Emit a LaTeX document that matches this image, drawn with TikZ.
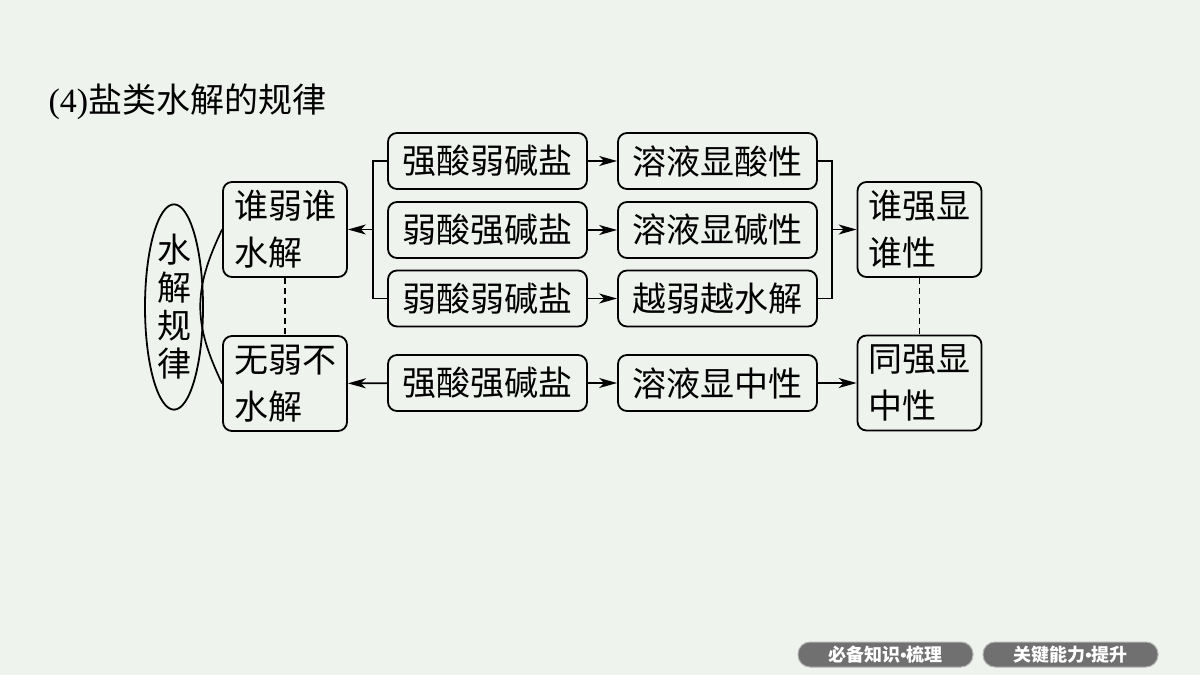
\documentclass[tikz,border=0pt]{standalone}
\usepackage{fontspec}
\usepackage{xcolor}
\usepackage{tikz}
\usetikzlibrary{arrows.meta,shapes.geometric}
\setmainfont{Liberation Serif}
\newfontfamily\cjk{Noto Sans CJK SC}
\newfontfamily\latn{Liberation Sans}
\definecolor{bgcol}{RGB}{239,243,238}
\definecolor{btncol}{RGB}{112,112,112}

\begin{document}
\begin{tikzpicture}[x=1pt,y=1pt,yscale=-1,
  box/.style={draw, rounded corners=9pt, line width=1.8pt, inner sep=0pt},
  salt/.style={box, minimum width=199pt, minimum height=56pt, font=\cjk\fontsize{34}{40}\selectfont},
  twoline/.style={box, minimum width=124pt, minimum height=95pt, text width=102pt, align=left, font=\cjk\fontsize{34}{47}\selectfont},
  link/.style={line width=1.7pt},
  arr/.style={link, -{Stealth[length=18pt,width=10pt,inset=5pt]}},
  hint/.style={line width=1.5pt, dash pattern=on 6pt off 4pt},
  btn/.style={draw=gray!60, line width=1pt, fill=btncol, rounded corners=12pt, minimum width=175pt, minimum height=25pt, inner sep=0pt, text=white, font=\cjk\bfseries\fontsize{18}{18}\selectfont}]
%set diagram to 1200 x 675
\useasboundingbox[fill=bgcol] (0,0) rectangle (1200,675);

% Text Node
\node[anchor=west, font=\fontsize{34}{40}\selectfont] (title) at (45,102) {(4)\cjk 盐类水解的规律};

%Shape: Ellipse
\node[draw, ellipse, line width=1.8pt, minimum width=58pt, minimum height=190pt, inner sep=0pt, align=center, font=\cjk\fontsize{34}{38}\selectfont] (rule) at (174,307) {水\\解\\规\\律};

%Shape: Rounded Rectangle
\node[twoline] (weak) at (285,229.5) {谁弱谁\\水解};
\node[twoline] (none) at (285,383.5) {无弱不\\水解};
\node[twoline] (show) at (919.5,229.5) {谁强显\\谁性};
\node[twoline] (same) at (919.5,383) {同强显\\中性};

%Shape: Rounded Rectangle
\node[salt] (sa1) at (487.5,161) {强酸弱碱盐};
\node[salt] (sa2) at (487.5,230) {弱酸强碱盐};
\node[salt] (sa3) at (487.5,298.5) {弱酸弱碱盐};
\node[salt] (sa4) at (487.5,383) {强酸强碱盐};
\node[salt] (re1) at (717.5,161) {溶液显酸性};
\node[salt] (re2) at (717.5,230) {溶液显碱性};
\node[salt] (re3) at (717.5,298.5) {越弱越水解};
\node[salt] (re4) at (717.5,383) {溶液显中性};

%Curve
\draw[link] (weak.west) .. controls (193,290) and (193,323) .. (none.west);

%Straight Lines
\draw[hint] (weak.south) -- (none.north);
\draw[hint] (show.south) -- (same.north);

% left bracket
\coordinate (lj) at (373,229.5);
\draw[link] (sa1.west) -| (lj) |- (sa3.west);
\draw[arr] (lj) -- (weak.east);
% right bracket
\coordinate (rj) at (832,229.5);
\draw[link] (re1.east) -| (rj) |- (re3.east);
\draw[arr] (rj) -- (show.west);

%Arrows
\draw[arr] (sa1) -- (re1);
\draw[arr] (sa2) -- (re2);
\draw[arr] (sa3) -- (re3);
\draw[arr] (sa4) -- (re4);
\draw[arr] (sa4) -- (none);
\draw[arr] (re4.east) -- (same.west |- re4.east);

%Buttons
\node[btn] (btnA) at (885.5,654.5) {必备知识{\latn\bfseries•}梳理};
\node[btn] (btnB) at (1070.5,654.5) {关键能力{\latn\bfseries•}提升};

\end{tikzpicture}
\end{document}
